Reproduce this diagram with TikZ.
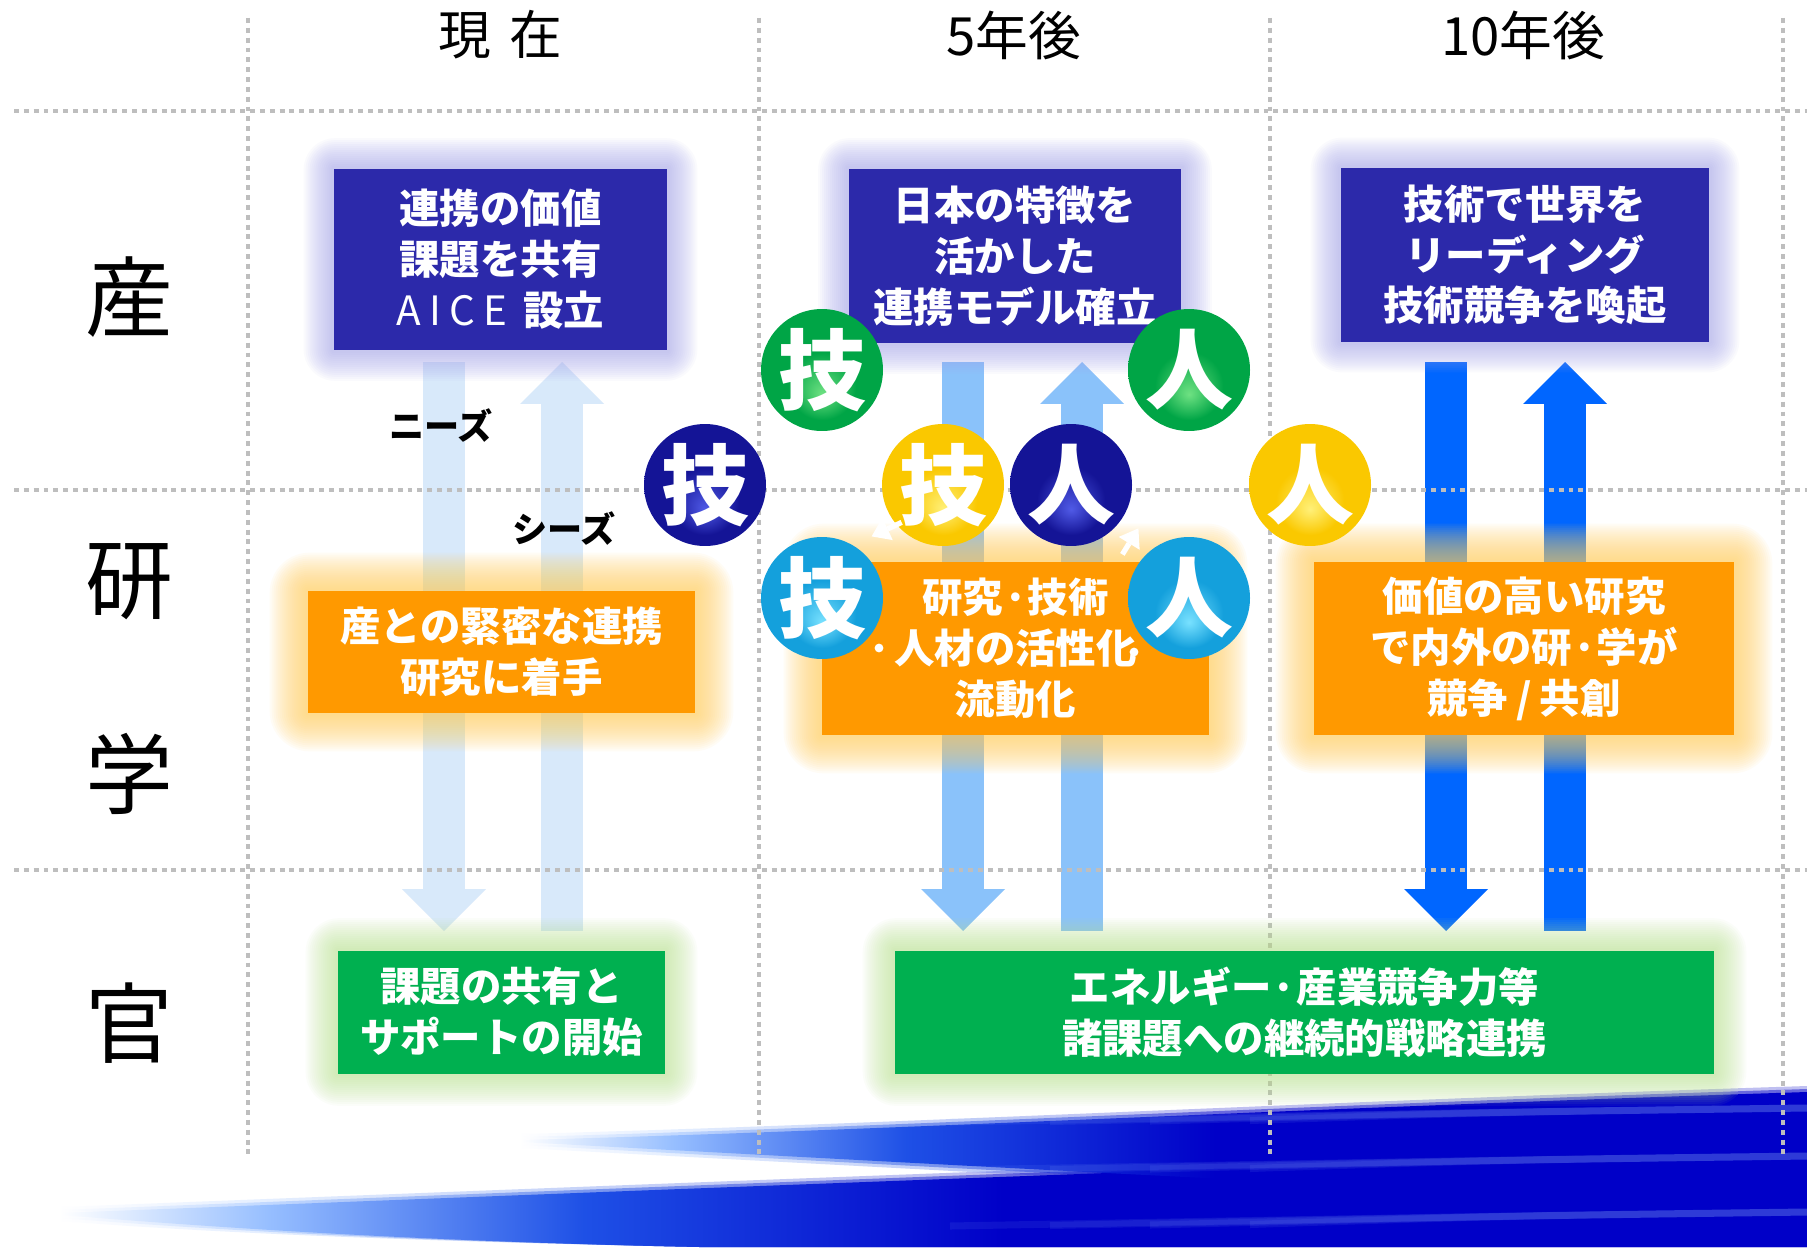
\documentclass[tikz,border=0pt]{standalone}
\usepackage{fontspec}
\setmainfont{Noto Sans CJK JP}
\usetikzlibrary{arrows.meta,calc,backgrounds}
\definecolor{sanblue}{RGB}{44,41,170}
\definecolor{kenorange}{RGB}{255,153,0}
\definecolor{kangreen}{RGB}{0,176,80}
\definecolor{haloblue}{RGB}{165,165,235}
\definecolor{halooran}{RGB}{255,210,100}
\definecolor{halogreen}{RGB}{185,228,140}
\definecolor{arrpale}{RGB}{216,233,250}
\definecolor{arrmid}{RGB}{138,194,250}
\definecolor{arrdeep}{RGB}{0,102,255}
\definecolor{dotgray}{RGB}{190,190,190}
\definecolor{swlight}{RGB}{150,190,255}
\definecolor{swblue}{RGB}{30,80,230}
\definecolor{swdeep}{RGB}{0,0,200}
% ball colours (light / main / dark)
\definecolor{grnL}{RGB}{110,225,130}\definecolor{grnM}{RGB}{0,165,70}\definecolor{grnD}{RGB}{0,100,45}
\definecolor{navL}{RGB}{80,90,230}\definecolor{navM}{RGB}{20,20,150}\definecolor{navD}{RGB}{10,10,95}
\definecolor{yelL}{RGB}{255,240,120}\definecolor{yelM}{RGB}{250,200,0}\definecolor{yelD}{RGB}{215,145,0}
\definecolor{cyaL}{RGB}{120,225,255}\definecolor{cyaM}{RGB}{20,160,220}\definecolor{cyaD}{RGB}{0,95,165}
\pgfdeclareradialshading{ballgrn}{\pgfpoint{0bp}{-10bp}}{color(0bp)=(grnL); color(14bp)=(grnM); color(30bp)=(grnM); color(40bp)=(grnD)}
\pgfdeclareradialshading{ballnav}{\pgfpoint{0bp}{-10bp}}{color(0bp)=(navL); color(14bp)=(navM); color(30bp)=(navM); color(40bp)=(navD)}
\pgfdeclareradialshading{ballyel}{\pgfpoint{0bp}{-10bp}}{color(0bp)=(yelL); color(14bp)=(yelM); color(30bp)=(yelM); color(40bp)=(yelD)}
\pgfdeclareradialshading{ballcya}{\pgfpoint{0bp}{-10bp}}{color(0bp)=(cyaL); color(14bp)=(cyaM); color(30bp)=(cyaM); color(40bp)=(cyaD)}
\pgfdeclarehorizontalshading{swoosh}{100bp}{color(0bp)=(white); color(25bp)=(white); color(31bp)=(swlight); color(40bp)=(swblue); color(52bp)=(swdeep); color(100bp)=(swdeep)}

\begin{document}
\begin{tikzpicture}[x=0.02cm,y=-0.02cm,
    boxtext/.style={text=white,font=\fontsize{23}{29}\selectfont\bfseries,align=center,inner sep=0pt},
    sanbox/.style={boxtext,fill=sanblue},
    kenbox/.style={boxtext,fill=kenorange},
    kanbox/.style={boxtext,fill=kangreen},
    ball/.style={circle,minimum size=2.44cm,inner sep=0pt,text=white,font=\fontsize{50}{50}\selectfont\bfseries},
    colhead/.style={font=\fontsize{30}{30}\selectfont},
    rowhead/.style={font=\fontsize{50}{50}\selectfont},
    flowlabel/.style={font=\fontsize{20}{20}\selectfont\bfseries},
    dotline/.style={dotgray,line width=2.3pt,dash pattern=on 2.8pt off 2.8pt},
    blockarrow/.style={#1,line width=0.84cm,-{Triangle[length=0.84cm,width=1.68cm,line width=0pt]}},
    spin/.style={white,line width=3pt,-{Triangle[length=10pt,width=14pt,line width=0pt]}}]
  \useasboundingbox (0,0) rectangle (1807,1247);

  % column and row heads
  \node[colhead] (now) at (500,35) {現\hspace{0.35em}在};
  \node[colhead] (y5) at (1014,35) {5年後};
  \node[colhead] (y10) at (1523,35) {10年後};
  \node[rowhead] (san) at (129,297) {産};
  \node[rowhead] (ken) at (129,582) {研};
  \node[rowhead] (gaku) at (129,774) {学};
  \node[rowhead] (kan) at (129,1023) {官};

  % boxes
  \node[sanbox,minimum width=6.66cm,minimum height=3.64cm] (san1) at (500.5,259.5) {連携の価値\\課題を共有\\{\mdseries A\hspace{0.2em}I\hspace{0.2em}C\hspace{0.2em}E}\hspace{0.4em}設立};
  \node[sanbox,minimum width=6.66cm,minimum height=3.5cm] (san2) at (1015,256) {日本の特徴を\\活かした\\連携モデル確立};
  \node[sanbox,minimum width=7.36cm,minimum height=3.48cm] (san3) at (1525,255) {技術で世界を\\リーディング\\技術競争を喚起};
  \node[kenbox,minimum width=7.74cm,minimum height=2.44cm] (ken1) at (501.5,652) {産との緊密な連携\\研究に着手};
  \node[kenbox,minimum width=7.74cm,minimum height=3.46cm] (ken2) at (1015.5,648.5) {研究·技術\\人材の活性化\\流動化};
  \node[kenbox,minimum width=8.4cm,minimum height=3.46cm] (ken3) at (1524,648.5) {価値の高い研究\\で内外の研·学が\\競争\hspace{0.2em}/\hspace{0.2em}共創};
  \node[kanbox,minimum width=6.54cm,minimum height=2.46cm] (kan1) at (501.5,1012) {課題の共有と\\サポートの開始};
  \node[kanbox,minimum width=16.38cm,minimum height=2.46cm] (kan2) at (1304.5,1012) {エネルギー·産業競争力等\\諸課題への継続的戦略連携};

  \node[flowlabel] (needs) at (441,426) {ニーズ};
  \node[flowlabel] (seeds) at (564,529) {シーズ};

  % arrow ends: needs go down, seeds go up
  \path (444,362) coordinate (nd1) (444,931) coordinate (nd1e)
        (562,931) coordinate (sd1) (562,362) coordinate (sd1e)
        (963,362) coordinate (nd2) (963,931) coordinate (nd2e)
        (1082,931) coordinate (sd2) (1082,362) coordinate (sd2e)
        (1446,362) coordinate (nd3) (1446,931) coordinate (nd3e)
        (1565,931) coordinate (sd3) (1565,362) coordinate (sd3e);

  \begin{scope}[on background layer]
    \fill[white] (0,0) rectangle (1807,1247);
    % blue sweep along the foot, a few offset copies for soft edges
    \foreach \d/\o in {-6/.25,6/.25,-3/.45,3/.45,0/1} {
      \shade[shading=swoosh,opacity=\o] (60,1213+\d) .. controls (500,1196+\d) and (1000,1176+\d) .. (1807,1148+\d)
        -- (1807,1247) -- (700,1247) .. controls (400,1241) and (200,1226+\d) .. (60,1215+\d) -- cycle;
      \shade[shading=swoosh,opacity=\o] (520,1140+\d) .. controls (900,1130+\d) and (1300,1108+\d) .. (1807,1092+\d)
        -- (1807,1205+\d) .. controls (1400,1190+\d) and (900,1162+\d) .. (520,1142+\d) -- cycle;
    }
    % lighter streaks, built up from the left so they fade in
    \foreach \s in {1122,1170,1226}
      \foreach \x in {950,1050,1150,1250}
        \draw[swlight,line width=4pt,opacity=.09] (\x,\s-\x/200+4.75) .. controls (1500,\s-10) .. (1807,\s-14);

    \foreach \a/\b/\c in {nd1/nd1e/arrpale,sd1/sd1e/arrpale,nd2/nd2e/arrmid,sd2/sd2e/arrmid,nd3/nd3e/arrdeep,sd3/sd3e/arrdeep}
      \draw[blockarrow=\c] (\a) -- (\b);

    % dotted grid
    \foreach \x in {248,759,1270,1783} \draw[dotline] (\x,18) -- (\x,1158);
    \foreach \y in {111,490,870} \draw[dotline] (14,\y) -- (1807,\y);

    % soft halo round the boxes
    \foreach \n/\c/\r/\o in {san1/haloblue/30/.055,san2/haloblue/30/.055,san3/haloblue/30/.055,ken1/halooran/38/.06,ken2/halooran/38/.06,ken3/halooran/38/.06,kan1/halogreen/32/.05,kan2/halogreen/32/.05}
      \foreach \g in {2,4,...,\r}
        \fill[\c,opacity=\o,rounded corners=\g*0.6pt] ($(\n.south west)+(-\g,\g)$) rectangle ($(\n.north east)+(\g,-\g)$);
  \end{scope}

  % balls
  \node[ball,shading=ballgrn] (gi1) at (822,370) {技};
  \node[ball,shading=ballgrn] (jin1) at (1189,370) {人};
  \node[ball,shading=ballnav] (gi2) at (705,485) {技};
  \node[ball,shading=ballyel] (gi3) at (943,485) {技};
  \node[ball,shading=ballnav] (jin2) at (1071,485) {人};
  \node[ball,shading=ballyel] (jin3) at (1310,485) {人};
  \node[ball,shading=ballcya] (gi4) at (822,598) {技};
  \node[ball,shading=ballcya] (jin4) at (1189,598) {人};

  \draw[spin] (gi3.south west) ++(2,-6) coordinate (sp1) (sp1) -- ++(-30,14);
  \draw[spin] (jin2.south east) ++(8,26) coordinate (sp2) (sp2) -- ++(16,-26);
  \fill[white] (879,648) circle (2.5pt) (1134,652) circle (2.5pt);
\end{tikzpicture}
\end{document}
